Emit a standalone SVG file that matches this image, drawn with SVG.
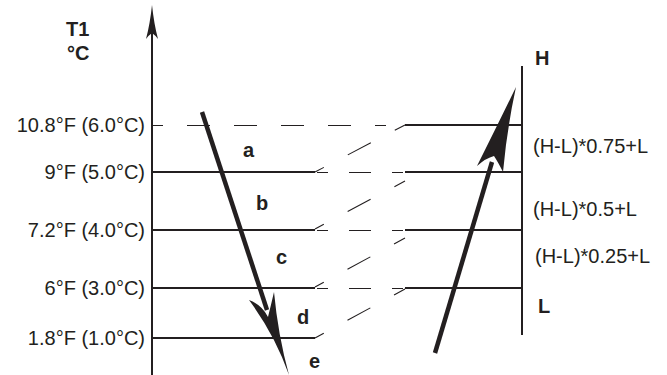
<svg xmlns="http://www.w3.org/2000/svg" width="667" height="375" viewBox="0 0 667 375">
<style>
.bg{fill:#fff}
.ln{stroke:#231f20;stroke-width:1.8;fill:none}
.ax{stroke:#231f20;stroke-width:2;fill:none}
.dt{stroke:#231f20;stroke-width:1;fill:none;stroke-dasharray:23 24;stroke-dashoffset:13}
.dm{stroke:#231f20;stroke-width:1;fill:none;stroke-dasharray:11 21 22 21 11 100}
.dd{stroke:#231f20;stroke-width:1.1;fill:none;stroke-dasharray:26 27;stroke-dashoffset:16}
.sh{stroke:#231f20;stroke-width:4.5;fill:none}
.hd{fill:#231f20;stroke:none}
.t{font-family:"Liberation Sans",Arial,sans-serif;font-size:20px;fill:#231f20}
.b{font-family:"Liberation Sans",Arial,sans-serif;font-size:20px;font-weight:bold;fill:#231f20}
</style>
<rect class="bg" x="0" y="0" width="667" height="375"/>
<g id="connectors">
  <line class="ax" x1="152" y1="30" x2="152" y2="375"/>
  <path class="hd" d="M152,5 Q154,24 158,39 Q155,35 152,33 Q149,35 146,39 Q150,24 152,5 Z"/>
  <line class="ax" x1="522" y1="66" x2="522" y2="335"/>
  <line class="dt" x1="153" y1="125.5" x2="386" y2="125.5"/>
  <line class="ln" x1="152" y1="172" x2="315" y2="172"/>
  <line class="ln" x1="152" y1="230" x2="315" y2="230"/>
  <line class="ln" x1="152" y1="288" x2="315" y2="288"/>
  <line class="ln" x1="152" y1="338" x2="315" y2="338"/>
  <line class="dm" x1="317" y1="172.5" x2="403" y2="172.5"/>
  <line class="dm" x1="317" y1="230.5" x2="403" y2="230.5"/>
  <line class="dm" x1="317" y1="288.5" x2="403" y2="288.5"/>
  <line class="dd" x1="315" y1="172" x2="405" y2="125"/>
  <line class="dd" x1="315" y1="229" x2="405" y2="181"/>
  <line class="dd" x1="315" y1="287" x2="405" y2="238"/>
  <line class="dd" x1="315" y1="338" x2="405" y2="289"/>
  <line class="ln" x1="405" y1="125" x2="522" y2="125"/>
  <line class="ln" x1="405" y1="172" x2="522" y2="172"/>
  <line class="ln" x1="405" y1="230" x2="522" y2="230"/>
  <line class="ln" x1="405" y1="288" x2="522" y2="288"/>
</g>
<g id="arrow-down">
  <line class="sh" x1="202" y1="112" x2="267" y2="310"/>
  <path class="hd" d="M289,375 Q278,335 274,292 Q271,305 268,317 Q262,305 249,300 Q275,335 289,375 Z"/>
</g>
<g id="arrow-up">
  <line class="sh" x1="435" y1="353" x2="492" y2="162"/>
  <path class="hd" d="M516,87 Q507,128 503,172 Q498,162 494,156 Q486,158 477,166 Q498,124 516,87 Z"/>
</g>
<g id="axis-title">
  <text class="b" x="66" y="36">T1</text>
  <text class="b" x="67" y="60">°C</text>
</g>
<g id="left-labels">
  <text class="t" x="145" y="132" text-anchor="end">10.8°F (6.0°C)</text>
  <text class="t" x="145" y="179" text-anchor="end">9°F (5.0°C)</text>
  <text class="t" x="145" y="237" text-anchor="end">7.2°F (4.0°C)</text>
  <text class="t" x="145" y="295" text-anchor="end">6°F (3.0°C)</text>
  <text class="t" x="145" y="345" text-anchor="end">1.8°F (1.0°C)</text>
</g>
<g id="zone-labels">
  <text class="b" x="243" y="157">a</text>
  <text class="b" x="256" y="210">b</text>
  <text class="b" x="276" y="264">c</text>
  <text class="b" x="297" y="324">d</text>
  <text class="b" x="309" y="368">e</text>
</g>
<g id="right-labels">
  <text class="b" x="535" y="65">H</text>
  <text class="b" x="538" y="313">L</text>
  <text class="t" x="533" y="153">(H-L)*0.75+L</text>
  <text class="t" x="533" y="216">(H-L)*0.5+L</text>
  <text class="t" x="535" y="263">(H-L)*0.25+L</text>
</g>
</svg>
